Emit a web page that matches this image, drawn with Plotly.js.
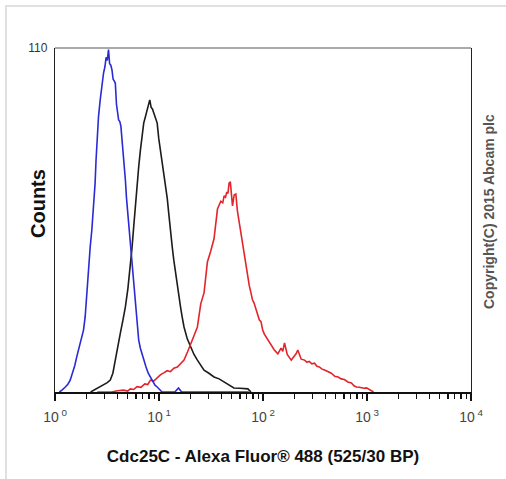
<!DOCTYPE html>
<html>
<head>
<meta charset="utf-8">
<script src="https://cdn.plot.ly/plotly-3.0.1.min.js"></script>
<style>
html,body{margin:0;padding:0;background:#fff;}
#wrap{position:relative;width:506px;height:479px;overflow:hidden;}
#chart{position:absolute;left:0;top:0;width:506px;height:479px;}
#frame{position:absolute;left:5px;top:5px;width:520px;height:500px;border-top:2px solid #e0e0e0;border-left:2px solid #e0e0e0;pointer-events:none;}
</style>
</head>
<body>
<div id="wrap"><div id="chart"></div><div id="frame"></div></div>
<script>
// Isotype control (blue)
const blueX = [1.10,1.16,1.25,1.33,1.40,1.48,1.55,1.62,1.70,1.78,1.88,1.95,2.02,2.10,2.18,2.26,2.34,2.43,2.48,2.53,2.62,2.72,2.80,2.87,2.93,3.02,3.10,3.18,3.27,3.35,3.44,3.53,3.62,3.71,3.80,3.90,4.00,4.09,4.20,4.30,4.41,4.52,4.63,4.75,4.87,4.99,5.11,5.24,5.37,5.51,5.65,5.79,5.93,6.08,6.23,6.38,6.62,6.87,7.13,7.50,7.88,8.28,8.70,9.15,9.61,10.1,10.7,14.2,15.4,16.5,73];
const blueY = [0,0.5,1.5,2.5,3.8,6,8.5,11.3,14,16.5,19.8,24,31.7,38,46.4,51.8,58,66.8,74,80.6,88,93.4,97,99,102,104,107,106,109.5,105,104.5,103,100,99.5,98.8,92,90,87,86.5,85,80.6,77,73,67.8,62,58,52.8,48,44,40,35,31,27.2,23,19.5,16.6,14,12,10.2,8,6,4.8,3.5,2.2,1.6,0.8,0,0,1.3,0,0];
// Unlabelled control (black)
const blackX = [2.20,2.34,2.50,2.72,2.95,3.18,3.40,3.60,3.80,4.02,4.25,4.50,4.75,5.02,5.30,5.50,5.71,5.93,6.15,6.38,6.63,6.88,7.13,7.40,7.69,7.92,8.15,8.40,8.65,8.91,9.25,9.61,9.95,10.3,10.9,11.6,12.0,12.4,12.9,13.4,13.9,14.4,15.2,16.1,16.7,17.4,18.7,20.2,21.7,23.4,25.2,27.1,30.2,33.8,37.8,42.3,47.0,52.5,60,71.6,76.6];
const blackY = [0,0.5,1.0,1.6,2.2,3.0,3.8,6,10.2,14,18.8,23,27.2,33,40,46,52.8,60,66.8,72,77.4,82,86,88,90,91.5,93.4,91,90.5,89.2,87.5,86,81,77.4,72,66.8,62,57.2,51,46.4,42,38.1,32,27.2,24,20.8,17,14.4,12,10.2,8.5,7.0,6,4.8,4.2,3.2,2.2,1.3,1.2,1.0,0];
// Cdc25C stained (red)
const redX = [2.55,3.5,4.0,4.57,5.0,5.3,5.7,6.15,6.7,7.3,7.8,8.28,8.9,9.6,10.3,11.1,12.0,12.9,13.9,15.0,16.2,17.4,18.8,20.2,21.7,23.4,25.2,27.1,29.2,31.4,33.8,36.5,39.3,41.0,42.3,43.6,44.9,46.0,47.2,48.5,49.7,50.9,52.8,54.8,56.7,58.6,61.3,65.5,68.5,71.1,73.8,76.6,79.2,81.9,85.4,88.9,92.3,95.7,99,103,110,119,128,139,149,155,161,171,179,187,200,208,216,233,251,265,278,295,313,330,348,370,391,420,454,490,527,565,606,655,708,750,792,840,885,935,989,1050,1105,1156];
const redY = [0,0,0.4,0.6,0.3,1.0,0.8,1.7,1.5,2.6,2.4,3.8,3.5,4.5,5.5,6.1,6.8,6.5,7.6,8.0,9.0,10.2,12.8,15.7,18.0,20.8,28.2,31.7,41.6,45,49,58.5,61,60.5,62.7,62.3,64,63.5,66.8,67.2,62,59.5,63,63.3,58,55,51,45,40,38,34,31.7,29.5,28.5,26.5,25.3,23,22.5,20,18.5,17,15.4,13.5,12.2,14,13,15.7,12,11,10.2,11.5,12.2,13.4,10.5,10.2,9.5,9.8,9.0,9.2,8.2,8,7.3,7.0,6.5,6,5.0,4.8,4.2,4,3.2,2.9,2.0,1.6,1.5,1.3,1.2,1.3,0.8,0.6,0];

const xTickVals = [1,10,100,1000,10000];
const xTickText = ['10<sup> 0</sup>','10<sup> 1</sup>','10<sup> 2</sup>','10<sup> 3</sup>','10<sup> 4</sup>'];
const yTickVals = [110];
const yTickText = ['110'];

const traces = [
  {x: blackX, y: blackY, type:'scatter', mode:'lines', line:{color:'#1c1c1c', width:1.6}, hoverinfo:'skip'},
  {x: redX, y: redY, type:'scatter', mode:'lines', line:{color:'#e3242b', width:1.6}, hoverinfo:'skip'},
  {x: blueX, y: blueY, type:'scatter', mode:'lines', line:{color:'#2b2bd6', width:1.6}, hoverinfo:'skip'}
];

const layout = {
  width:506, height:479,
  margin:{l:55, r:35, t:48, b:87, pad:0},
  paper_bgcolor:'#fff', plot_bgcolor:'#fff',
  showlegend:false,
  font:{family:'Liberation Sans, Arial, sans-serif', color:'#333'},
  xaxis:{
    type:'log', range:[0,4], tickvals:xTickVals, ticktext:xTickText,
    ticks:'outside', ticklen:7, tickwidth:1.2, tickcolor:'#111',
    minor:{ticks:'outside', ticklen:5, dtick:'D1', tickcolor:'#111', tickwidth:1.2, showgrid:false},
    showgrid:false, zeroline:false, showline:true, linecolor:'#111', linewidth:2,
    tickfont:{size:14, color:'#444'}, ticklabelstandoff:4,
    title:{text:'Cdc25C - Alexa Fluor® 488 (525/30 BP)', font:{size:17, color:'#111', family:'Liberation Sans, Arial, sans-serif', weight:'bold'}, standoff:26},
    layer:'below traces', fixedrange:true
  },
  yaxis:{
    range:[0,110], tickvals:yTickVals, ticktext:yTickText, ticks:'',
    showgrid:false, zeroline:false, showline:true, mirror:true, linecolor:'#222', linewidth:1.2,
    tickfont:{size:12, color:'#333'}, ticklabelstandoff:4,
    layer:'below traces', fixedrange:true
  },
  shapes:[
    {type:'line', xref:'paper', yref:'paper', x0:0, x1:1, y0:1, y1:1, line:{color:'#555', width:1}}
  ],
  annotations:[
    {text:'Counts', xref:'paper', yref:'paper', x:(38-55)/416, y:(392-204)/344, xanchor:'center', yanchor:'middle', textangle:-90, showarrow:false,
     font:{size:20, color:'#111', family:'Liberation Sans, Arial, sans-serif', weight:'bold'}},
    {text:'Copyright(C) 2015 Abcam plc', xref:'paper', yref:'paper', x:(489-55)/416, y:(392-212)/344, xanchor:'center', yanchor:'middle', textangle:-90, showarrow:false,
     font:{size:14, color:'#555', family:'Liberation Sans, Arial, sans-serif', weight:'bold'}}
  ]
};

Plotly.newPlot('chart', traces, layout, {staticPlot:true, displayModeBar:false});
</script>
</body>
</html>
